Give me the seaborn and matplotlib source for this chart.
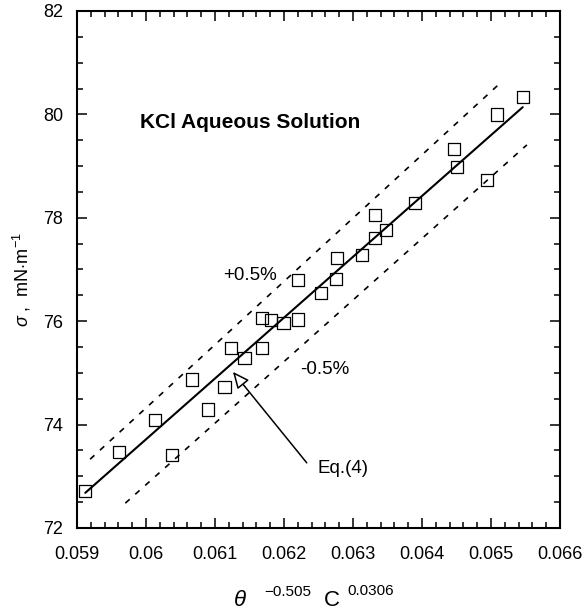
import matplotlib
matplotlib.use("Agg")
import matplotlib.pyplot as plt
import seaborn as sns
from matplotlib.ticker import MultipleLocator

# Data
x_points = [0.05912, 0.05961, 0.06013, 0.06038, 0.06067, 0.06090, 0.06114, 0.06123,
            0.06143, 0.06168, 0.06168, 0.06181, 0.06199, 0.06220, 0.06220, 0.06254,
            0.06275, 0.06277, 0.06313, 0.06332, 0.06332, 0.06348, 0.06390, 0.06446,
            0.06451, 0.06494, 0.06509, 0.06546]
y_points = [72.72, 73.47, 74.09, 73.41, 74.87, 74.29, 74.73, 75.48,
            75.29, 75.48, 76.06, 76.02, 75.97, 76.03, 76.80, 76.55,
            76.82, 77.22, 77.28, 77.61, 78.05, 77.76, 78.29, 79.33,
            78.98, 78.73, 80.00, 80.34]

fit_x = [0.05912, 0.06546]
fit_y = [72.68, 80.14]
upper_x = [0.05919, 0.06517]
upper_y = [73.33, 80.65]
lower_x = [0.05970, 0.06552]
lower_y = [72.48, 79.41]

x_ticks = [0.059, 0.06, 0.061, 0.062, 0.063, 0.064, 0.065, 0.066]
x_tick_labels = ["0.059", "0.06", "0.061", "0.062", "0.063", "0.064", "0.065", "0.066"]
y_ticks = [72, 74, 76, 78, 80, 82]
y_tick_labels = ["72", "74", "76", "78", "80", "82"]

sns.set_style("ticks")
plt.rcParams['font.family'] = ['Liberation Sans', 'DejaVu Sans']
plt.rcParams['mathtext.fontset'] = 'custom'
plt.rcParams['mathtext.rm'] = 'Liberation Sans'
plt.rcParams['mathtext.it'] = 'Liberation Sans:italic'
for k in ['text.color', 'axes.labelcolor', 'xtick.color', 'ytick.color', 'axes.edgecolor']:
    plt.rcParams[k] = 'black'

fig = plt.figure(figsize=(5.87, 6.16), dpi=100)
ax = fig.add_axes([77/587, 1-528/616, (560-77)/587, (528-11)/616])

sns.lineplot(x=fit_x, y=fit_y, ax=ax, color='black', linewidth=1.5)
sns.lineplot(x=upper_x, y=upper_y, ax=ax, color='black', linewidth=1.2,
             linestyle=(0, (3.5, 4.5)))
sns.lineplot(x=lower_x, y=lower_y, ax=ax, color='black', linewidth=1.2,
             linestyle=(0, (3.5, 4.5)))
sns.scatterplot(x=x_points, y=y_points, ax=ax, marker='s', s=80,
                facecolor='none', edgecolor='black', linewidth=0.9, zorder=3)

ax.set_xlim(0.059, 0.066)
ax.set_ylim(72, 82)
ax.set_xticks(x_ticks)
ax.set_xticklabels(x_tick_labels)
ax.set_yticks(y_ticks)
ax.set_yticklabels(y_tick_labels)
ax.xaxis.set_minor_locator(MultipleLocator(0.0002))
ax.yaxis.set_minor_locator(MultipleLocator(0.5))
ax.tick_params(which='both', direction='in', top=True, right=True, width=1.1,
               labelsize=13, color='black', labelcolor='black')
ax.tick_params(which='major', length=7)
ax.tick_params(which='minor', length=4)
ax.tick_params(axis='x', which='major', pad=13)
ax.tick_params(axis='y', which='major', pad=10)
for sp in ax.spines.values():
    sp.set_linewidth(1.5)
    sp.set_color('black')
ax.set_xlabel("")
ax.set_ylabel("")

ax.text(0.05991, 79.85, "KCl Aqueous Solution", fontsize=15, fontweight='bold',
        ha='left', va='center')
ax.text(0.0619, 76.89, "+0.5%", fontsize=13.5, ha='right', va='center')
ax.text(0.06259, 75.07, "-0.5%", fontsize=13.5, ha='center', va='center')
ax.text(0.06248, 73.16, "Eq.(4)", fontsize=13.5, ha='left', va='center')
ax.annotate("", xy=(0.06126, 75.02), xytext=(0.06233, 73.26),
            arrowprops=dict(arrowstyle='-|>,head_length=1.0,head_width=0.45',
                            fc='white', ec='black', lw=1.1, shrinkA=0, shrinkB=0))

# axis labels
fig.text(22/587, 1-280/616, r"$\sigma$ ,  mN$\cdot$m$^{-1}$", rotation=90,
         fontsize=13, ha='center', va='center')
fig.text(240/587, 1-600/616, r"$\theta$", fontsize=16, ha='center', va='center')
fig.text(288/587, 1-592/616, "\u22120.505", fontsize=11, ha='center', va='center')
fig.text(332/587, 1-600/616, "C", fontsize=16, ha='center', va='center')
fig.text(371/587, 1-591/616, "0.0306", fontsize=11, ha='center', va='center')

fig.savefig("out.png", dpi=100)
